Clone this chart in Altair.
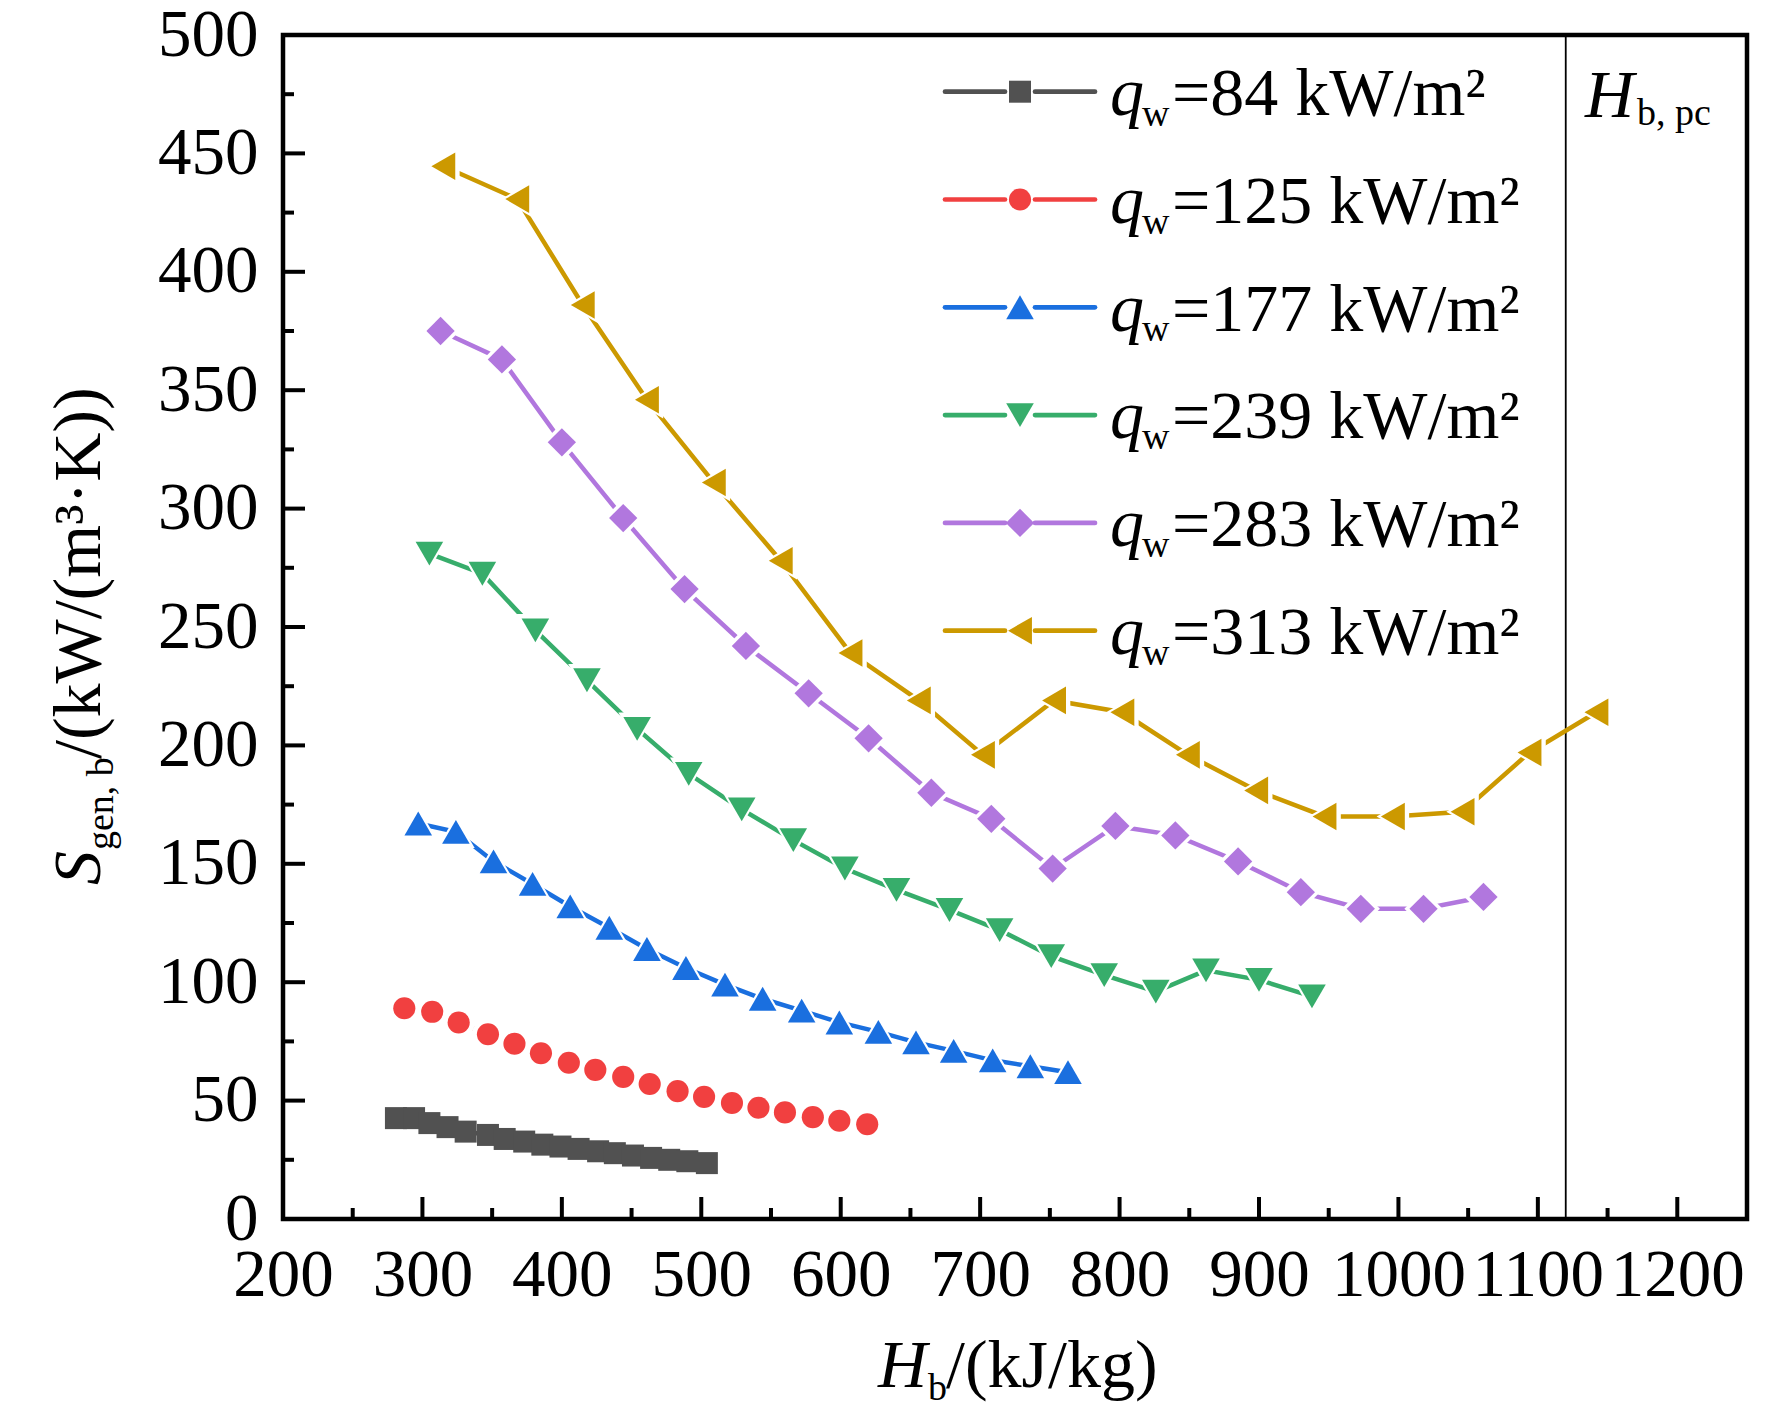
import altair as alt
import pandas as pd

# ---------------- data ----------------
series_names = ["84", "125", "177", "239", "283", "313"]

H84 = [281, 294, 305, 318, 331, 347, 359, 373, 386, 399, 412, 426, 438, 451, 464, 477, 490, 504]
S84 = [42.6, 42.6, 40.5, 38.8, 36.9, 35.5, 33.8, 32.7, 31.4, 30.6, 29.6, 28.6, 27.8, 26.8, 25.8, 25.0, 24.4, 23.6]

H125 = [287, 307, 326, 347, 366, 385, 405, 424, 444, 463, 483, 502, 522, 541, 560, 580, 599, 619]
S125 = [89, 87.5, 83, 78, 74, 70, 66, 63, 60, 57, 54, 51.6, 49, 47, 45, 43, 41.5, 40]

H177 = [297, 324, 351, 379, 406, 434, 461, 489, 517, 544, 572, 599, 627, 654, 681, 709, 736, 763]
S177 = [167, 163.5, 151, 141.5, 132, 123, 114, 106, 99, 93, 88, 83, 79, 74.6, 71, 67, 64.5, 62]

H239 = [305, 343, 381, 418, 454, 491, 529, 566, 603, 640, 678, 714, 751, 789, 826, 862, 900, 938]
S239 = [281, 272.5, 248.6, 227.5, 207, 188, 173, 160, 148, 139, 130.5, 122, 111, 103, 96, 105, 101, 94]

H283 = [313, 357, 400, 444, 488, 532, 577, 620, 665, 708, 752, 797, 840, 885, 930, 973, 1018, 1061]
S283 = [375, 363, 328, 296, 266, 242, 222, 203, 180, 169, 148, 166, 162, 151, 138, 131, 131, 136]

H313 = [315, 368, 415, 461, 509, 557, 607, 656, 702, 753, 802, 849, 898, 947, 996, 1046, 1094, 1142]
S313 = [444.6, 430.7, 386, 346, 311, 278, 239, 219, 196, 219, 214, 196, 181, 170, 170, 172, 197, 214]

H_values = [H84, H125, H177, H239, H283, H313]
S_values = [S84, S125, S177, S239, S283, S313]

x_major = list(range(200, 1201, 100))
x_minor = list(range(250, 1151, 100))
y_major = list(range(0, 501, 50))
y_minor = list(range(25, 476, 50))
H_PC = 1120

# ---------------- styles ----------------
colors = ["#515151", "#F14040", "#1A6FDF", "#37AD6B", "#B177DE", "#CC9900"]
shapes = ["square", "circle", "triangle-up", "triangle-down", "diamond", "triangle-left"]
msizes = [484, 490, 760, 760, 800, 760]
gap_halo = [False, True, True, True, True, True]   # Origin-style line gap at symbols
GAP = 5

FONT = "Liberation Serif"
W, HT = 1464, 1184
FS = 68
FS_SUB = 38

xscale = alt.Scale(domain=[200, 1250], nice=False, zero=False)
yscale = alt.Scale(domain=[0, 500], nice=False, zero=False)

xaxis = alt.Axis(values=x_major, title=None, ticks=False, tickSize=0, domain=False, grid=False,
                 labelFont=FONT, labelFontSize=67, labelColor="black", labelPadding=23,
                 labelOverlap=False, labelFlush=False, format="d")
yaxis = alt.Axis(values=y_major, title=None, ticks=False, tickSize=0, domain=False, grid=False,
                 labelFont=FONT, labelFontSize=67, labelColor="black", labelPadding=25,
                 labelOverlap=False, labelFlush=False, format="d")

X = lambda: alt.X("H:Q", scale=xscale, axis=xaxis)
Y = lambda: alt.Y("S:Q", scale=yscale, axis=yaxis)

layers = []

# critical enthalpy line
layers.append(
    alt.Chart(pd.DataFrame({"H": [H_PC]})).mark_rule(color="black", strokeWidth=1.8).encode(x=X())
)

# data series
for name, xs, ys, col, shp, sz, halo in zip(series_names, H_values, S_values, colors, shapes,
                                            msizes, gap_halo):
    d = pd.DataFrame({"H": xs, "S": ys})
    layers.append(alt.Chart(d).mark_line(color=col, strokeWidth=4.5).encode(x=X(), y=Y()))
    if halo:
        hs = (sz ** 0.5 + 2 * GAP) ** 2
        layers.append(alt.Chart(d).mark_point(filled=True, shape=shp, size=hs, color="white",
                                              opacity=1, strokeWidth=0).encode(x=X(), y=Y()))
    layers.append(alt.Chart(d).mark_point(filled=True, shape=shp, size=sz, color=col, opacity=1,
                                          strokeWidth=0).encode(x=X(), y=Y()))

# inward ticks
layers.append(alt.Chart(pd.DataFrame({"H": x_major})).mark_rule(color="black", strokeWidth=4)
              .encode(x=X(), y=alt.value(HT), y2=alt.value(HT - 22)))
layers.append(alt.Chart(pd.DataFrame({"H": x_minor})).mark_rule(color="black", strokeWidth=4)
              .encode(x=X(), y=alt.value(HT), y2=alt.value(HT - 11)))
layers.append(alt.Chart(pd.DataFrame({"S": y_major})).mark_rule(color="black", strokeWidth=4)
              .encode(y=Y(), x=alt.value(0), x2=alt.value(22)))
layers.append(alt.Chart(pd.DataFrame({"S": y_minor})).mark_rule(color="black", strokeWidth=4)
              .encode(y=Y(), x=alt.value(0), x2=alt.value(11)))


def txt(s, x, y, size=FS, italic=False, angle=0):
    kw = dict(text=s, font=FONT, fontSize=size, fontStyle="italic" if italic else "normal",
              align="left", baseline="alphabetic", color="black")
    if angle:
        kw["angle"] = angle
    return alt.Chart(pd.DataFrame({"t": [s]})).mark_text(**kw).encode(x=alt.value(x), y=alt.value(y))


# legend
for i, (name, col, shp, sz) in enumerate(zip(series_names, colors, shapes, msizes)):
    ry = 56.7 + i * 107.8
    one = pd.DataFrame({"k": [0]})
    layers.append(alt.Chart(one).mark_rule(color=col, strokeWidth=4.7, strokeCap="round")
                  .encode(x=alt.value(662), x2=alt.value(722), y=alt.value(ry)))
    layers.append(alt.Chart(one).mark_rule(color=col, strokeWidth=4.7, strokeCap="round")
                  .encode(x=alt.value(752), x2=alt.value(812), y=alt.value(ry)))
    layers.append(alt.Chart(one).mark_point(filled=True, shape=shp, size=sz, color=col, opacity=1,
                                            strokeWidth=0)
                  .encode(x=alt.value(737), y=alt.value(ry)))
    layers.append(txt("q", 827, ry + 23.3, italic=True))
    layers.append(txt("w", 859, ry + 34, size=FS_SUB))
    layers.append(txt("=" + name + " kW/m\u00b2", 889, ry + 23.3))

# H_b,pc annotation
layers.append(txt("H", 1302, 82, italic=True))
layers.append(txt("b, pc", 1354, 90, size=FS_SUB))

# x-axis title
layers.append(txt("H", 595, 1352, italic=True))
layers.append(txt("b", 645, 1365, size=FS_SUB))
layers.append(txt("/(kJ/kg)", 663, 1352))

# y-axis title (rotated)
layers.append(txt("S", -183, 850, italic=True, angle=270))
layers.append(txt("gen, b", -170, 815, size=FS_SUB, angle=270))
layers.append(txt("/(kW/(m\u00b3\u00b7K))", -183, 724, angle=270))

chart = (
    alt.layer(*layers)
    .properties(width=W, height=HT, autosize=alt.AutoSizeParams(type="none"),
                padding={"left": 275, "top": 27, "right": 10, "bottom": 190},
                background="white")
    .configure(font=FONT)
    .configure_view(stroke="black", strokeWidth=4.5)
)

chart.save("out.html", embed_options={"renderer": "svg", "actions": False})
